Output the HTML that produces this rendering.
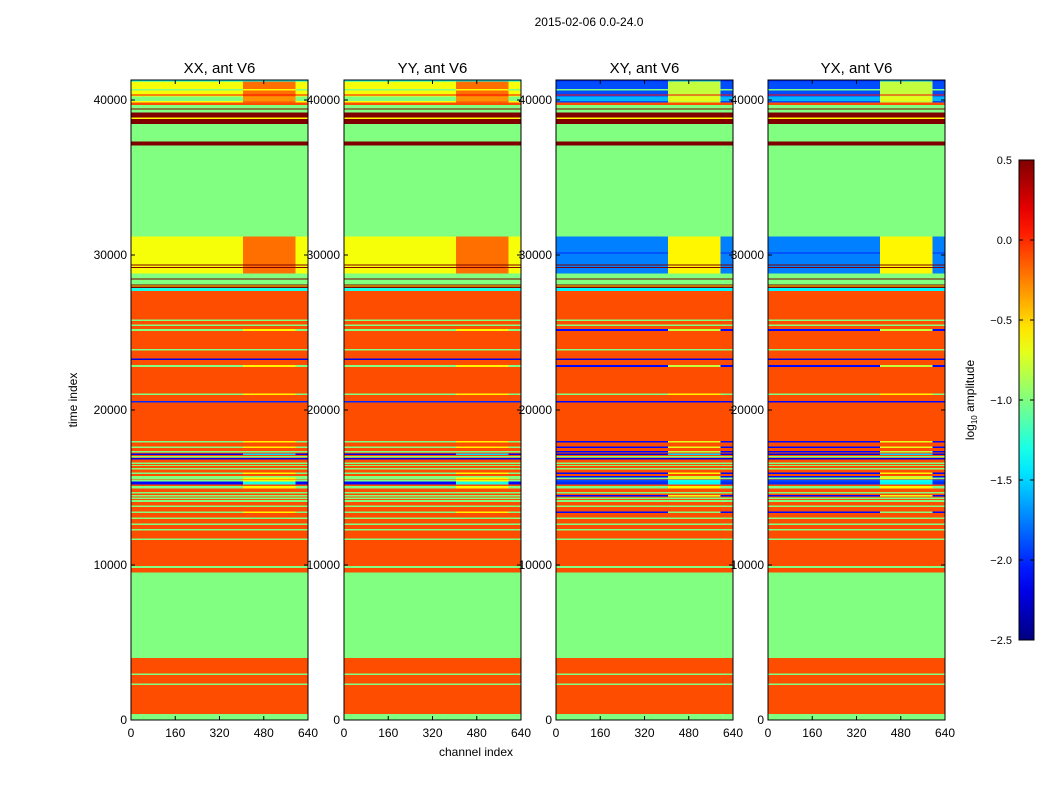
<!DOCTYPE html>
<html><head><meta charset="utf-8"><style>
body{margin:0;background:#fff;}
svg text{font-family:"Liberation Sans","DejaVu Sans",sans-serif;}
</style></head><body>
<svg id="fig" width="1050" height="800" viewBox="0 0 1050 800" xmlns="http://www.w3.org/2000/svg">
<rect width="1050" height="800" fill="#fff"/>
<text x="589" y="26" font-size="12" text-anchor="middle">2015-02-06 0.0-24.0</text>
<text x="476" y="756" font-size="12" text-anchor="middle">channel index</text>
<text x="77" y="400" font-size="12" text-anchor="middle" transform="rotate(-90 77 400)">time index</text>
<g id="panels"></g>
<g id="cbar"></g>
</svg>
<script>
const panelTitles = ["XX, ant V6","YY, ant V6","XY, ant V6","YX, ant V6"];
const panelKind = [0,0,1,1]; // 0 = parallel-hand values, 1 = cross-hand values
const xTicks = [0,160,320,480,640];
const yTicks = [0,10000,20000,30000,40000];
const cbarTicks = [-2.5,-2.0,-1.5,-1.0,-0.5,0.0,0.5];
const channelSegments = [[0,405,0],[405,595,1],[595,640,0]]; // [start,end,use-right-value]
// rows: [tStart, tEnd, parLeft, parRight, crossLeft, crossRight]
const bands = [
[0,390,-1,-1,-1,-1],
[390,4000,-0.1,-0.1,-0.1,-0.1],
[2250,2350,-1,-1,-1,-1],
[2900,3000,-1,-1,-1,-1],
[4000,9500,-1,-1,-1,-1],
[9500,27677,-0.1,-0.1,-0.1,-0.1],
[9800,9930,-1,-1,-1,-1],
[11610,11710,-1,-1,-1,-1],
[12210,12310,-1,-1,-1,-1],
[12570,12670,-1,-1,-1,-1],
[12960,13060,-1,-1,-1,-1],
[13350,13450,-1,-0.6,-2.1,-1.0],
[13750,13850,-1,-1,-1,-1],
[14080,14180,-1,-1,-1,-1],
[14270,14370,-1,-1,-1,-1],
[14420,14520,-1,-1,-2.1,-0.7],
[14620,14720,-1,-1,-1,-1],
[14950,15110,-1,-0.6,-1,-0.6],
[15200,15380,-2.1,-1.3,-2.0,-1.4],
[15380,15500,-1,-0.6,-1.9,-1.3],
[15550,15650,-1,-0.6,-1,-0.6],
[15660,15740,-1,-1,-2.1,-0.8],
[15880,15980,-1,-0.6,-2.1,-0.6],
[16150,16250,-1,-1,-1,-1],
[16380,16460,-1,-1,-1,-1],
[16520,16620,-1,-1,-1,-1],
[16810,16910,-2.2,-2.2,-2.2,-2.2],
[16950,17040,-1,-1,-1,-1],
[17090,17190,-2.2,-1.5,-2.2,-1.5],
[17260,17360,-1,-1,-2.1,-0.8],
[17540,17640,-1,-0.6,-2.1,-0.7],
[17890,18010,-1,-0.6,-2.1,-0.7],
[20490,20590,-2.0,-2.0,-2.1,-2.1],
[20960,21060,-1,-0.6,-1,-0.6],
[22790,22890,-1,-0.6,-2.1,-0.8],
[23220,23320,-2.2,-2.2,-2.2,-2.2],
[23850,23950,-1,-1,-1,-1],
[25110,25210,-1,-0.6,-2.1,-0.8],
[25430,25530,-1,-1,-1,-1],
[25750,25850,-1,-1,-1,-1],
[27677,27871,-1.3,-1.3,-1.4,-1.4],
[27871,27955,0.5,0.5,0.5,0.5],
[27955,28045,-0.6,-0.6,-0.6,-0.6],
[28045,28110,0.5,0.5,0.5,0.5],
[28110,28432,-1,-1,-1,-1],
[28432,28497,0.5,0.5,0.5,0.5],
[28497,28819,-1,-1,-1,-1],
[28819,31181,-0.65,-0.2,-1.75,-0.6],
[29150,29220,0.5,0.5,0.5,0.5],
[29320,29390,0.5,0.5,0.5,0.5],
[30100,30150,-0.65,-0.2,-2.0,-0.6],
[31181,37052,-1,-1,-1,-1],
[37052,37310,0.5,0.5,0.5,0.5],
[37310,38452,-1,-1,-1,-1],
[38452,38774,0.5,0.5,0.5,0.5],
[38774,38858,-0.6,-0.6,-0.6,-0.6],
[38858,39206,0.5,0.5,0.5,0.5],
[39206,39374,-1,-1,-1,-1],
[39374,39465,0.5,0.5,0.5,0.5],
[39465,39677,-1,-1,-1,-1],
[39677,39826,-0.1,-0.1,-0.1,-0.1],
[39826,41181,-0.65,-0.2,-1.9,-0.8],
[39935,40215,-1,-0.3,-1.6,-0.7],
[40290,40350,0.1,0.1,0.1,0.1],
[40600,40700,-1,-0.6,-1.0,-0.8],
[41181,41290,-1.4,-1.4,-2.0,-1.6]
];
const T_MAX = 41290, C_MAX = 640, V_MIN = -2.5, V_MAX = 0.5;
const panelLeft = [131,344,556,768], panelW = 177, panelTop = 80, panelBot = 720;
const NS = "http://www.w3.org/2000/svg";
function mk(tag, attrs){const e=document.createElementNS(NS,tag);for(const k in attrs)e.setAttribute(k,attrs[k]);return e;}
function jet(v){
  let f=(v-V_MIN)/(V_MAX-V_MIN); f=Math.max(0,Math.min(1,f));
  const c=x=>Math.round(255*Math.max(0,Math.min(1,x)));
  return `rgb(${c(1.5-Math.abs(4*f-3))},${c(1.5-Math.abs(4*f-2))},${c(1.5-Math.abs(4*f-1))})`;
}
const yScale = t => panelBot - (t/T_MAX)*(panelBot-panelTop);
const panelsG = document.getElementById('panels');
panelTitles.forEach((title,p)=>{
  const x0 = panelLeft[p];
  const xScale = c => x0 + c/C_MAX*panelW;
  const g = mk('g',{});
  
  
  panelsG.appendChild(g);
  const hm = mk('g',{'shape-rendering':'crispEdges'});
  
  
  g.appendChild(hm);
  bands.forEach(b=>{
    const k = panelKind[p];
    channelSegments.forEach(s=>{
      const v = s[2] ? b[3+2*k] : b[2+2*k];
      const y1 = yScale(b[1]), y0 = yScale(b[0]);
      const r = mk('rect',{x:xScale(s[0]),y:y1,width:xScale(s[1])-xScale(s[0]),height:Math.max(0.8,y0-y1),fill:jet(v)});
      
      
      hm.appendChild(r);
    });
  });
  const fr = mk('rect',{x:x0,y:panelTop,width:panelW,height:panelBot-panelTop,fill:'none',stroke:'#000','stroke-width':1});
  
  
  g.appendChild(fr);
  const tt = mk('text',{x:x0+panelW/2,y:73,'font-size':15,'text-anchor':'middle'});
  tt.textContent = title;
  
  
  g.appendChild(tt);
  xTicks.forEach(c=>{
    const x = xScale(c);
    g.appendChild(mk('line',{x1:x,x2:x,y1:panelBot,y2:panelBot-4,stroke:'#000'}));
    g.appendChild(mk('line',{x1:x,x2:x,y1:panelTop,y2:panelTop+4,stroke:'#000'}));
    const lt = mk('text',{x:x,y:737,'font-size':12,'text-anchor':'middle'});
    lt.textContent = c;
    
    
    g.appendChild(lt);
  });
  yTicks.forEach(t=>{
    const y = yScale(t);
    g.appendChild(mk('line',{x1:x0,x2:x0+4,y1:y,y2:y,stroke:'#000'}));
    g.appendChild(mk('line',{x1:x0+panelW,x2:x0+panelW-4,y1:y,y2:y,stroke:'#000'}));
    const lt = mk('text',{x:x0-4,y:y+4,'font-size':12,'text-anchor':'end'});
    lt.textContent = t;
    
    
    g.appendChild(lt);
  });
});
// colorbar
const cb = document.getElementById('cbar');
const cbX=1019, cbW=15, cbTop=160, cbBot=640;
const defs = mk('defs',{});
const grad = mk('linearGradient',{id:'jetg',x1:0,y1:1,x2:0,y2:0});
for(let i=0;i<=20;i++){const v=V_MIN+(V_MAX-V_MIN)*i/20;grad.appendChild(mk('stop',{offset:i/20,'stop-color':jet(v)}));}
defs.appendChild(grad); cb.appendChild(defs);
const cbr = mk('rect',{x:cbX,y:cbTop,width:cbW,height:cbBot-cbTop,fill:'url(#jetg)',stroke:'#000','stroke-width':1});


cb.appendChild(cbr);
const cbY = v => cbBot - (v-V_MIN)/(V_MAX-V_MIN)*(cbBot-cbTop);
cbarTicks.forEach(v=>{
  const y=cbY(v);
  cb.appendChild(mk('line',{x1:cbX,x2:cbX+4,y1:y,y2:y,stroke:'#000'}));
  cb.appendChild(mk('line',{x1:cbX+cbW,x2:cbX+cbW-4,y1:y,y2:y,stroke:'#000'}));
  const lt = mk('text',{x:1012,y:y+4,'font-size':11,'text-anchor':'end'});
  lt.textContent = v.toFixed(1).replace('-','\u2212');
  
  
  cb.appendChild(lt);
});
const cl = mk('text',{x:974,y:400,'font-size':12,'text-anchor':'middle',transform:'rotate(-90 974 400)'});
cl.innerHTML = 'log<tspan font-size="8" dy="3">10</tspan><tspan dy="-3"> amplitude</tspan>';


cb.appendChild(cl);
</script>
</body></html>
